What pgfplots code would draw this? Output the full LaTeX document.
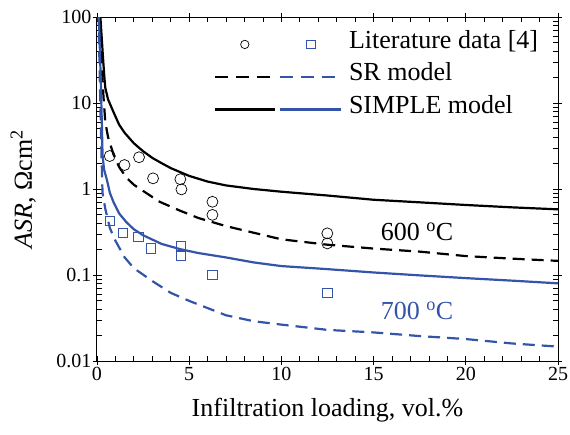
\documentclass[border=0pt]{standalone}
\usepackage{fontspec}
\setmainfont{Liberation Serif}
\usepackage{pgfplots}
\pgfplotsset{compat=1.18}
\definecolor{myblue}{RGB}{52,84,170}
\begin{document}
\begin{tikzpicture}
\begin{axis}[
  name=main,
  scale only axis, width=461pt, height=344pt,
  xmin=0, xmax=25, ymin=0.01, ymax=100, ymode=log,
  xtick={0,5,10,15,20,25},
  xticklabels={\textrm{0},\textrm{5},\textrm{10},\textrm{15},\textrm{20},\textrm{25}},
  minor x tick num=4,
  ytick={0.01,0.1,1,10,100},
  yticklabels={\textrm{0.01},\textrm{0.1},\textrm{1},\textrm{10},\textrm{100}},
  /pgf/number format/assume math mode=true,
  tick align=inside, major tick length=5pt, minor tick length=5pt,
  every tick/.style={black, line width=0.8pt},
  axis line style={line width=1pt},
  ticklabel style={font=\rmfamily\fontsize{20}{24}\selectfont},
  xticklabel style={yshift=-3pt},
  yticklabel style={xshift=-2pt},
  xlabel={Infiltration loading, vol.\%},
  ylabel={\textit{ASR}, Ωcm\textsuperscript{2}},
  label style={font=\fontsize{26}{30}\selectfont},
  xlabel style={at={(axis description cs:0.5,-0.142)}, anchor=center},
  ylabel style={at={(axis description cs:-0.16,0.5)}, anchor=center},
  legend style={at={(rel axis cs:0.246,0.971)}, anchor=north west, draw=none, fill=none,
    font=\fontsize{26}{30}\selectfont, column sep=7pt, row sep=2pt,
    nodes={inner sep=0pt, text height=19pt, text depth=11.5pt}},
  legend cell align=left,
]
% SIMPLE 600 (black solid)
\addplot[black, line width=2.2pt, forget plot] coordinates {
(0.17,110) (0.25,60) (0.32,35) (0.4,20) (0.45,15) (0.6,11) (0.9,7.8) (1.2,5.6) (1.5,4.5)
(2.0,3.4) (2.5,2.75) (3.0,2.3) (3.5,2.0) (4.0,1.75) (5.0,1.42) (6.0,1.22) (7.0,1.1)
(8.5,1.0) (10,0.93) (12.5,0.84) (15,0.75) (17.5,0.7) (20,0.652) (22.5,0.612) (25,0.58)};
% SR 600 (black dashed)
\addplot[black, line width=2.2pt, dash pattern=on 12pt off 7pt, forget plot] coordinates {
(0.14,110) (0.25,30) (0.35,12) (0.45,6) (0.6,4) (0.9,2.5) (1.2,1.8) (1.6,1.35) (2.0,1.12)
(2.7,0.89) (3.4,0.71) (4.5,0.56) (5.5,0.46) (7,0.37) (8.5,0.31) (10,0.26) (12.5,0.225)
(15,0.203) (17.5,0.187) (20,0.166) (22.5,0.155) (25,0.146)};
% SIMPLE 700 (blue solid)
\addplot[myblue, line width=2.2pt, forget plot] coordinates {
(0.1,110) (0.2,20) (0.27,5) (0.3,2.5) (0.38,1.7) (0.54,1.27) (0.7,0.9) (0.9,0.7) (1.2,0.52)
(1.6,0.41) (2.0,0.34) (2.5,0.29) (3.5,0.23) (4.5,0.2) (5.5,0.18) (7,0.16) (8.5,0.14)
(10,0.127) (12.5,0.117) (15,0.107) (17.5,0.099) (20,0.092) (22.5,0.086) (25,0.08)};
% SR 700 (blue dashed)
\addplot[myblue, line width=2.2pt, dash pattern=on 12pt off 7pt, forget plot] coordinates {
(0.08,110) (0.15,20) (0.22,4) (0.3,0.9) (0.45,0.59) (0.7,0.35) (1.0,0.25) (1.5,0.16)
(2.0,0.12) (3.0,0.085) (4.0,0.062) (5,0.05) (7,0.034) (8.5,0.029) (10,0.0265)
(12.5,0.023) (15,0.0215) (17.5,0.0195) (20,0.018) (22.5,0.016) (25,0.0147)};
% Literature data 600
\addplot[only marks, mark=o, mark size=5.5pt, black, mark options={line width=0.7pt}, forget plot] coordinates {
(0.69,2.42) (1.49,1.90) (2.28,2.34) (3.04,1.33) (4.52,1.30) (4.58,0.99)
(6.26,0.71) (6.26,0.50) (12.49,0.305) (12.49,0.233)};
% Literature data 700
\addplot[only marks, mark=square, mark size=4.6pt, myblue, mark options={line width=0.7pt}, forget plot] coordinates {
(0.69,0.43) (1.41,0.31) (2.24,0.277) (2.91,0.204) (4.54,0.217) (4.54,0.168)
(6.26,0.10) (12.49,0.062)};
\addlegendimage{legend image code/.code={
  \draw[black, line width=0.7pt] (30pt,0pt) circle (4.2pt);
  \draw[myblue, line width=0.7pt] (92pt,-4.2pt) rectangle (100.4pt,4.2pt);
  \path (0pt,0pt) (126pt,0pt);}}
\addlegendentry{Literature data [4]}
\addlegendimage{legend image code/.code={
  \draw[black, line width=2.2pt, dash pattern=on 13pt off 8pt] (0pt,0pt) -- (55pt,0pt);
  \draw[myblue, line width=2.2pt, dash pattern=on 13pt off 8pt] (65pt,0pt) -- (120pt,0pt);
  \path (126pt,0pt);}}
\addlegendentry{SR model}
\addlegendimage{legend image code/.code={
  \draw[black, line width=2.4pt] (0pt,0pt) -- (60pt,0pt);
  \draw[myblue, line width=2.4pt] (65pt,0pt) -- (126pt,0pt);}}
\addlegendentry{SIMPLE model}
\node[anchor=base west, font=\fontsize{26}{30}\selectfont] at (axis cs:15.2,0.255) {600 \textsuperscript{o}C};
\node[anchor=base west, font=\fontsize{26}{30}\selectfont, text=myblue] at (axis cs:15.2,0.030) {700 \textsuperscript{o}C};
\end{axis}
\begin{axis}[
  scale only axis, width=461pt, height=344pt,
  xmin=0, xmax=25, ymin=0.01, ymax=100, ymode=log,
  xtick={0,5,10,15,20,25}, xticklabels={}, minor x tick num=0,
  ytick={0.01,0.1,1,10,100}, yticklabels={}, yminorticks=false,
  tick align=outside, major tick length=4pt,
  every tick/.style={black, line width=0.8pt},
  axis line style={draw=none},
]
\end{axis}
\pgfresetboundingbox
\path ([xshift=-97pt,yshift=-73pt]main.south west) rectangle ([xshift=12pt,yshift=17pt]main.north east);
\end{tikzpicture}
\end{document}
